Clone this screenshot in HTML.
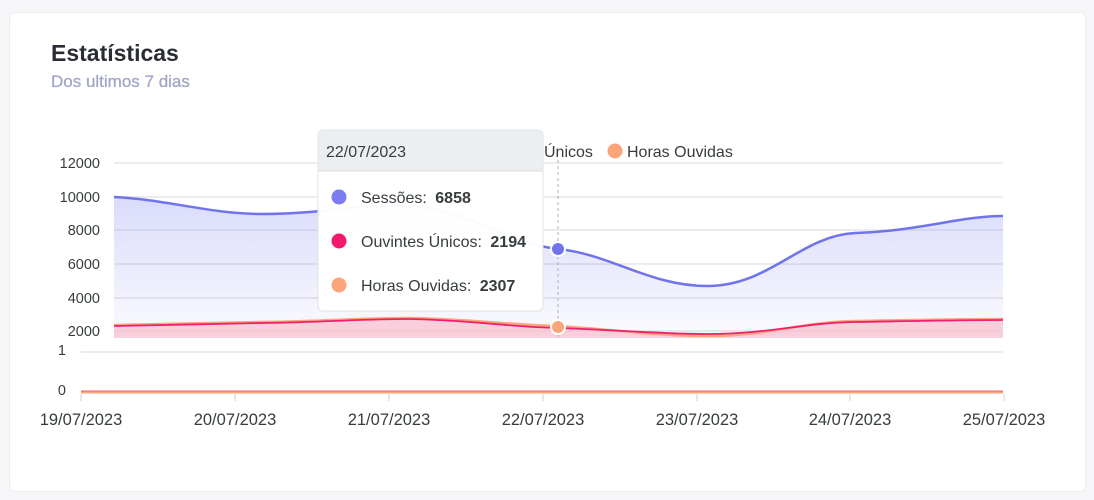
<!DOCTYPE html>
<html><head><meta charset="utf-8"><style>
html,body{margin:0;padding:0;width:1094px;height:500px;background:#f6f6f8;overflow:hidden;font-family:"Liberation Sans",sans-serif}
.card{position:absolute;left:9px;top:12px;width:1075px;height:478px;background:#fff;border:1px solid #ececf0;border-radius:6px}
</style></head><body>
<div class="card"></div>
<svg width="1094" height="500" style="position:absolute;left:0;top:0" font-family="Liberation Sans, sans-serif">
<defs>
<linearGradient id="gs" x1="0" y1="0" x2="0" y2="1"><stop offset="0" stop-color="#7b7ff0" stop-opacity="0.28"/><stop offset="1" stop-color="#7b7ff0" stop-opacity="0.03"/></linearGradient>
</defs>
<text x="51" y="61" font-size="23" font-weight="bold" fill="#2a2d33">Estatísticas</text>
<text x="51" y="87" font-size="17" fill="#a3a5c8" stroke="#a3a5c8" stroke-width="0.3">Dos ultimos 7 dias</text>
<g stroke="#e6e6e6" stroke-width="1.5">
<line x1="114" y1="163" x2="1003" y2="163"/><line x1="114" y1="197" x2="1003" y2="197"/><line x1="114" y1="230" x2="1003" y2="230"/><line x1="114" y1="264" x2="1003" y2="264"/><line x1="114" y1="298" x2="1003" y2="298"/><line x1="114" y1="331" x2="1003" y2="331"/>
<line x1="81" y1="352" x2="1003" y2="352"/>
</g>
<g font-size="14.5" fill="#373d3f" text-anchor="end">
<text x="100" y="168">12000</text><text x="100" y="202">10000</text><text x="100" y="235">8000</text><text x="100" y="269">6000</text><text x="100" y="303">4000</text><text x="100" y="336">2000</text>
<text x="66" y="355">1</text><text x="66" y="395">0</text>
</g>
<path d="M114,197 C170,200 210,214 262,214 C320,214 360,204 410,206 C470,210 510,244 558,249 C610,254 650,286 707,286 C770,286 800,236 855,233 C920,231 960,216 1003,216 L1003,338 L114,338 Z" fill="url(#gs)"/>
<path d="M114,197 C170,200 210,214 262,214 C320,214 360,204 410,206 C470,210 510,244 558,249 C610,254 650,286 707,286 C770,286 800,236 855,233 C920,231 960,216 1003,216" fill="none" stroke="#7073ec" stroke-width="2.5"/>
<path d="M114,326 C180,325 200,324 262,323 C330,322 360,319 410,319 C470,320 510,327 558,328 C620,330 660,334 707,334 C770,334 800,323 855,322 C920,321 960,320 1003,320 L1003,338 L114,338 Z" fill="#f8b8c8" fill-opacity="0.65"/>
<path d="M114,325 C180,324 200,323 262,322 C330,321 360,318 410,318 C470,319 510,325 558,326 C620,330 660,336 707,336 C770,336 800,322 855,321 C920,320 960,319 1003,319" fill="none" stroke="#fca47a" stroke-width="2.5"/>
<path d="M114,326 C180,325 200,324 262,323 C330,322 360,319 410,319 C470,320 510,327 558,328 C620,330 660,334 707,334 C770,334 800,323 855,322 C920,321 960,320 1003,320" fill="none" stroke="#f0206e" stroke-width="1.8"/>
<line x1="81" y1="392" x2="1003" y2="392" stroke="#fca47a" stroke-width="3"/>
<line x1="81" y1="391" x2="1003" y2="391" stroke="#f06080" stroke-width="1"/>
<g stroke="#e0e0e0" stroke-width="1.5"><line x1="81" y1="394" x2="81" y2="401"/><line x1="235" y1="394" x2="235" y2="401"/><line x1="389" y1="394" x2="389" y2="401"/><line x1="543" y1="394" x2="543" y2="401"/><line x1="697" y1="394" x2="697" y2="401"/><line x1="850" y1="394" x2="850" y2="401"/><line x1="1004" y1="394" x2="1004" y2="401"/></g>
<g font-size="16.5" fill="#373d3f" text-anchor="middle">
<text x="81" y="425">19/07/2023</text><text x="235" y="425">20/07/2023</text><text x="389" y="425">21/07/2023</text><text x="543" y="425">22/07/2023</text><text x="697" y="425">23/07/2023</text><text x="850" y="425">24/07/2023</text><text x="1004" y="425">25/07/2023</text>
</g>
<line x1="558" y1="160" x2="558" y2="338" stroke="#b0b0b0" stroke-dasharray="3,3"/>
<circle cx="558" cy="249" r="7" fill="#7073ec" stroke="#fff" stroke-width="2"/>
<circle cx="558" cy="327" r="7" fill="#fca47a" stroke="#fff" stroke-width="2"/>
<g font-size="16" fill="#373d3f">
<text x="544" y="157">Únicos</text>
<circle cx="615" cy="151" r="7.5" fill="#fca47a"/>
<text x="627" y="157">Horas Ouvidas</text>
</g>
<g>
<rect x="318" y="130" width="225" height="181" rx="5" fill="#fff" fill-opacity="0.97" stroke="#e3e3e3"/>
<path d="M318.5,171 L318.5,135 Q318.5,130.5 323,130.5 L538,130.5 Q542.5,130.5 542.5,135 L542.5,171 Z" fill="#eceff1"/>
<line x1="318.5" y1="171" x2="542.5" y2="171" stroke="#dddddd"/>
<text x="326" y="157" font-size="16" fill="#373d3f">22/07/2023</text>
<circle cx="339" cy="197" r="7.5" fill="#7a7cf0"/>
<text x="361" y="203" font-size="16" fill="#373d3f">Sessões: <tspan font-weight="bold" dx="4">6858</tspan></text>
<circle cx="339" cy="241" r="7.5" fill="#f5186c"/>
<text x="361" y="247" font-size="16" fill="#373d3f">Ouvintes Únicos: <tspan font-weight="bold" dx="4">2194</tspan></text>
<circle cx="339" cy="285" r="7.5" fill="#fca47a"/>
<text x="361" y="291" font-size="16" fill="#373d3f">Horas Ouvidas: <tspan font-weight="bold" dx="4">2307</tspan></text>
</g>
</svg>
</body></html>
